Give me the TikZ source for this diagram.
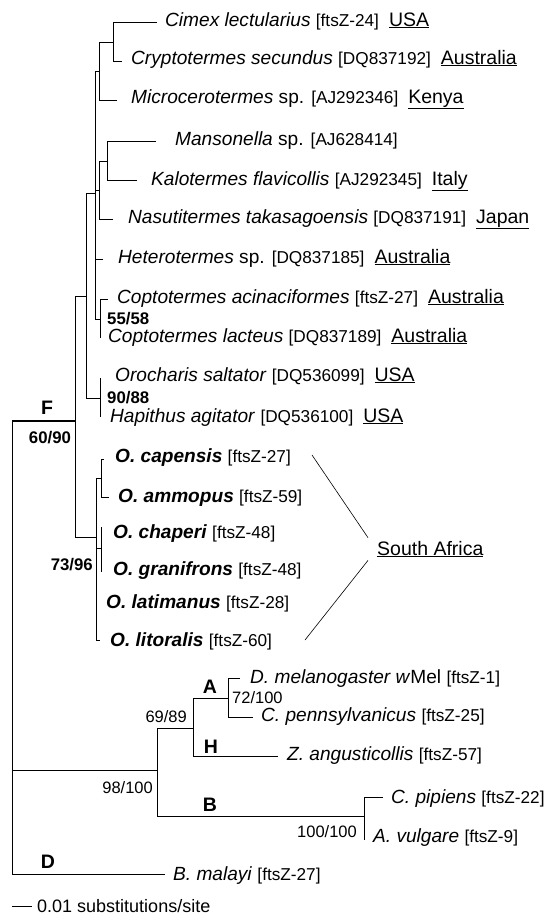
\documentclass[tikz,border=0pt]{standalone}
\usepackage{fontspec}
\setmainfont{Liberation Sans}
\usetikzlibrary{positioning}

\newcommand{\acc}[1]{{\fontsize{17.2}{18}\selectfont[#1]}}
\newcommand{\ctry}[1]{\hspace{10pt}{\fontsize{19.5}{20}\selectfont\underline{#1}}}

\begin{document}
\begin{tikzpicture}[x=1pt, y=-1pt,
    branch/.style={line width=0.8pt},
    leaf/.style={anchor=base west, inner sep=0pt, font=\fontsize{19.1}{20}\selectfont},
    supp/.style={inner sep=0pt, font=\fontsize{16.5}{18}\selectfont},
    bsupp/.style={supp, font=\bfseries\fontsize{16.8}{18}\selectfont},
    clade/.style={inner sep=0pt, font=\bfseries\fontsize{19.5}{20}\selectfont}]
    \useasboundingbox (0,0) rectangle (544,916);

    % Inner nodes
    \coordinate (Root) at (12,647);
    \coordinate (F) at (75,421);
    \coordinate (Insects) at (86,296);
    \coordinate (Termites) at (95,193);
    \coordinate (CimexGrp) at (99,71);
    \coordinate (CimexPair) at (113,42);
    \coordinate (KaloGrp) at (99,190);
    \coordinate (KaloPair) at (107,161);
    \coordinate (CoptoPair) at (100,319);
    \coordinate (CricketPair) at (100,398);
    \coordinate (Odontotermes) at (96,537);
    \coordinate (CapPair) at (101,478);
    \coordinate (ChapPair) at (101,548);
    \coordinate (AHB) at (157,770);
    \coordinate (AH) at (193,728);
    \coordinate (A) at (228,698);
    \coordinate (B) at (364,816);

    % Tips
    \coordinate (Cimex) at (157,22);
    \coordinate (Crypto) at (122,61);
    \coordinate (Micro) at (117,100);
    \coordinate (Manso) at (156,141);
    \coordinate (Kalo) at (137,180);
    \coordinate (Nasuti) at (113,219);
    \coordinate (Hetero) at (103,259);
    \coordinate (CoptoAci) at (108,299);
    \coordinate (CoptoLac) at (100,338);
    \coordinate (Orochar) at (100,378);
    \coordinate (Hapith) at (100,417);
    \coordinate (Capens) at (104,459);
    \coordinate (Ammop) at (109,497);
    \coordinate (Chaper) at (101,527);
    \coordinate (Granif) at (101,572);
    \coordinate (Latim) at (96,603);
    \coordinate (Litor) at (100,640);
    \coordinate (Dmel) at (240,678);
    \coordinate (Cpenn) at (253,717);
    \coordinate (Zang) at (278,756);
    \coordinate (Cpip) at (383,797);
    \coordinate (Avul) at (364,840);
    \coordinate (Bmal) at (165,874);

    % Branches
    \draw[branch] (Root) |- (F) (Root) |- (AHB) (Root) |- (Bmal);
    \draw[line width=2.5pt] (Root|-F) -- (F);
    \draw[branch] (F) |- (Insects) (F) |- (Odontotermes);
    \draw[branch] (Insects) |- (Termites) (Insects) |- (CricketPair);
    \draw[branch] (Termites) |- (CimexGrp) (Termites) |- (KaloGrp)
        (Termites) |- (Hetero) (Termites) |- (CoptoPair);
    \draw[branch] (CimexGrp) |- (CimexPair) (CimexGrp) |- (Micro);
    \draw[branch] (CimexPair) |- (Cimex) (CimexPair) |- (Crypto);
    \draw[branch] (KaloGrp) |- (KaloPair) (KaloGrp) |- (Nasuti);
    \draw[branch] (KaloPair) |- (Manso) (KaloPair) |- (Kalo);
    \draw[branch] (CoptoPair) |- (CoptoAci) (CoptoPair) |- (CoptoLac);
    \draw[branch] (CricketPair) |- (Orochar) (CricketPair) |- (Hapith);
    \draw[branch] (Odontotermes) |- (CapPair) (Odontotermes) |- (ChapPair)
        (Odontotermes) |- (Latim) (Odontotermes) |- (Litor);
    \draw[branch] (CapPair) |- (Capens) (CapPair) |- (Ammop);
    \draw[branch] (ChapPair) |- (Chaper) (ChapPair) |- (Granif);
    \draw[branch] (AHB) |- (AH) (AHB) |- (B);
    \draw[branch] (AH) |- (A) (AH) |- (Zang);
    \draw[branch] (A) |- (Dmel) (A) |- (Cpenn);
    \draw[branch] (B) |- (Cpip) (B) |- (Avul);

    % Leaf labels
    \node[leaf] (CimexLbl) at (165,26) {\textit{Cimex lectularius} \acc{ftsZ-24}\ctry{USA}};
    \node[leaf] (CryptoLbl) at (131,64) {\textit{Cryptotermes secundus} \acc{DQ837192}\ctry{Australia}};
    \node[leaf] (MicroLbl) at (131,103) {\textit{Microcerotermes} sp. \acc{AJ292346}\ctry{Kenya}};
    \node[leaf] (MansoLbl) at (175,145) {\textit{Mansonella} sp. \acc{AJ628414}};
    \node[leaf] (KaloLbl) at (151,185) {\textit{Kalotermes flavicollis} \acc{AJ292345}\ctry{Italy}};
    \node[leaf] (NasutiLbl) at (128,223) {\textit{Nasutitermes takasagoensis} \acc{DQ837191}\ctry{Japan}};
    \node[leaf] (HeteroLbl) at (118,263) {\textit{Heterotermes} sp. \acc{DQ837185}\ctry{Australia}};
    \node[leaf] (CoptoAciLbl) at (117,303) {\textit{Coptotermes acinaciformes} \acc{ftsZ-27}\ctry{Australia}};
    \node[leaf] (CoptoLacLbl) at (108,342) {\textit{Coptotermes lacteus} \acc{DQ837189}\ctry{Australia}};
    \node[leaf] (OrocharLbl) at (115,381) {\textit{Orocharis saltator} \acc{DQ536099}\ctry{USA}};
    \node[leaf] (HapithLbl) at (110,422) {\textit{Hapithus agitator} \acc{DQ536100}\ctry{USA}};
    \node[leaf] (CapensLbl) at (115,462) {\textbf{\textit{O. capensis}} \acc{ftsZ-27}};
    \node[leaf] (AmmopLbl) at (118,502) {\textbf{\textit{O. ammopus}} \acc{ftsZ-59}};
    \node[leaf] (ChaperLbl) at (113,538) {\textbf{\textit{O. chaperi}} \acc{ftsZ-48}};
    \node[leaf] (GranifLbl) at (113,575) {\textbf{\textit{O. granifrons}} \acc{ftsZ-48}};
    \node[leaf] (LatimLbl) at (106,608) {\textbf{\textit{O. latimanus}} \acc{ftsZ-28}};
    \node[leaf] (LitorLbl) at (110,646) {\textbf{\textit{O. litoralis}} \acc{ftsZ-60}};
    \node[leaf] (DmelLbl) at (250,683) {\textit{D. melanogaster w}Mel \acc{ftsZ-1}};
    \node[leaf] (CpennLbl) at (261,721) {\textit{C. pennsylvanicus} \acc{ftsZ-25}};
    \node[leaf] (ZangLbl) at (287,760) {\textit{Z. angusticollis} \acc{ftsZ-57}};
    \node[leaf] (CpipLbl) at (391,803) {\textit{C. pipiens} \acc{ftsZ-22}};
    \node[leaf] (AvulLbl) at (373,842) {\textit{A. vulgare} \acc{ftsZ-9}};
    \node[leaf] (BmalLbl) at (173,880) {\textit{B. malayi} \acc{ftsZ-27}};

    % Support values and supergroups
    \node[bsupp, anchor=west] (CoptoSupp) at (107,319) {55/58};
    \node[bsupp, anchor=west] (CricketSupp) at (107,398) {90/88};
    \node[bsupp, anchor=east] (OdontoSupp) at (93,565) {73/96};
    \node[bsupp] (FSupp) at (50,438) {60/90};
    \node[clade] (FLbl) at (47,408) {F};
    \node[clade] (ALbl) at (210,687) {A};
    \node[clade] (HLbl) at (211,747) {H};
    \node[clade] (BLbl) at (210,805) {B};
    \node[clade] (DLbl) at (48,862) {D};
    \node[supp, anchor=west] (ASupp) at (232,698) {72/100};
    \node[supp, anchor=east] (AHSupp) at (187,717) {69/89};
    \node[supp, anchor=east] (AHBSupp) at (153,788) {98/100};
    \node[supp, anchor=east] (BSupp) at (357,832) {100/100};

    % South Africa
    \node[anchor=base west, inner xsep=9pt, inner ysep=3pt, font=\fontsize{19.5}{20}\selectfont] (SAfrica) at (368,555) {\underline{South Africa}};
    \coordinate (SAtop) at (312,455);
    \coordinate (SAbot) at (305,640);
    \draw[branch, line width=0.6pt] (SAtop) -- (SAfrica.north west);
    \draw[branch, line width=0.6pt] (SAbot) -- (SAfrica.south west);

    % Scale bar
    \coordinate (ScaleL) at (12,906);
    \coordinate (ScaleR) at (32,906);
    \draw[branch] (ScaleL) -- (ScaleR);
    \node[leaf, font=\fontsize{18}{19}\selectfont] (ScaleLbl) at (37,912) {0.01 substitutions/site};
\end{tikzpicture}
\end{document}
